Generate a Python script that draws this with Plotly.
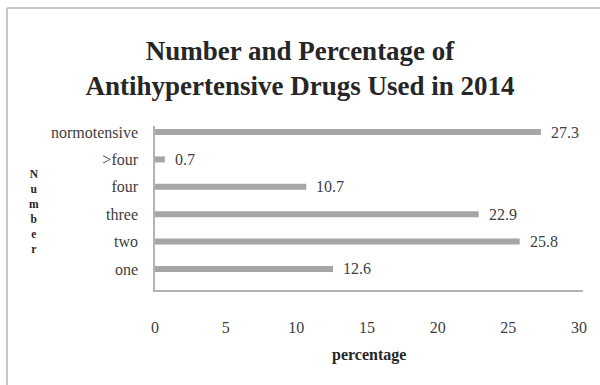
import plotly.graph_objects as go

categories = ["one", "two", "three", "four", ">four", "normotensive"]
percentages = [12.6, 25.8, 22.9, 10.7, 0.7, 27.3]
value_labels = ["12.6", "25.8", "22.9", "10.7", "0.7", "27.3"]
x_ticks = [0, 5, 10, 15, 20, 25, 30]
y_title_letters = list("Number")

W, H = 600, 385
ML, MR, MT, MB = 155, 17, 126, 95
PW, PH = W - ML - MR, H - MT - MB

def px_to_paper_x(px):
    return (px - ML) / PW

def px_to_paper_y(py):
    return (H - MB - py) / PH

SERIF = "Liberation Serif, Times New Roman, serif"
TXT = "#404040"

fig = go.Figure()
fig.add_trace(go.Bar(
    x=percentages, y=categories, orientation="h",
    marker=dict(color="#a6a6a6", line=dict(width=0)),
    width=0.22, hoverinfo="x+y",
))

annotations = []
for v, c, lab in zip(percentages, categories, value_labels):
    annotations.append(dict(x=v, y=c, xref="x", yref="y", text=lab, showarrow=False,
                            xanchor="left", yanchor="middle", xshift=8,
                            font=dict(family=SERIF, size=16, color=TXT)))

# stacked vertical y-axis title "Number" (one text element, one letter per line)
annotations.append(dict(x=px_to_paper_x(34), y=px_to_paper_y(211),
                        xref="paper", yref="paper", text="<br>".join(y_title_letters),
                        showarrow=False, xanchor="center", yanchor="middle", align="center",
                        font=dict(family=SERIF, size=11.5, color="#262626", weight="bold")))

# x-axis title
annotations.append(dict(x=px_to_paper_x(369), y=px_to_paper_y(355), xref="paper", yref="paper",
                        text="percentage", showarrow=False, xanchor="center", yanchor="middle",
                        font=dict(family=SERIF, size=16, color="#262626", weight="bold")))

shapes = [
    dict(type="line", xref="paper", yref="paper",
         x0=px_to_paper_x(7), x1=px_to_paper_x(600), y0=px_to_paper_y(8), y1=px_to_paper_y(8),
         line=dict(color="#c8c8c8", width=2)),
    dict(type="line", xref="paper", yref="paper",
         x0=px_to_paper_x(7), x1=px_to_paper_x(7), y0=px_to_paper_y(8), y1=px_to_paper_y(385),
         line=dict(color="#c8c8c8", width=2)),
]

fig.update_layout(
    width=W, height=H,
    margin=dict(l=ML, r=MR, t=MT, b=MB, pad=0),
    paper_bgcolor="white", plot_bgcolor="white",
    showlegend=False,
    title=dict(text="Number and Percentage of<br>Antihypertensive Drugs Used in 2014",
               x=0.5, xref="container", xanchor="center",
               y=1 - 59.5 / H, yref="container", yanchor="middle",
               font=dict(family=SERIF, size=27, color="#262626", weight="bold")),
    annotations=annotations,
    shapes=shapes,
    bargap=0.5,
)
fig.update_xaxes(range=[0, 30.28], tickvals=x_ticks, ticktext=[str(t) for t in x_ticks],
                 showgrid=False, zeroline=False, showline=True, linecolor="#b3b3b3", linewidth=1.5,
                 ticks="", ticklabelstandoff=22,
                 tickfont=dict(family=SERIF, size=16, color=TXT), fixedrange=True)
fig.update_yaxes(range=[-0.77, 5.22], categoryorder="array", categoryarray=categories,
                 showgrid=False, zeroline=False, showline=True, linecolor="#b3b3b3", linewidth=1.5,
                 ticks="", ticklabelstandoff=12,
                 tickfont=dict(family=SERIF, size=16, color=TXT), fixedrange=True)

fig.write_html("out.html")
